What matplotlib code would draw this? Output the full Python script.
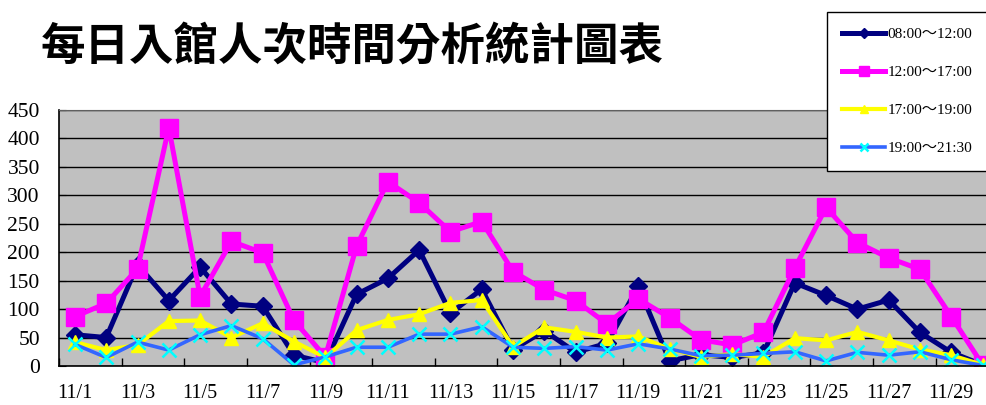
import matplotlib
matplotlib.use('Agg')
import matplotlib.pyplot as plt

# 日期（11月）
days = ['11/1', '11/2', '11/3', '11/4', '11/5', '11/6', '11/7', '11/8', '11/9', '11/10',
        '11/11', '11/12', '11/13', '11/14', '11/15', '11/16', '11/17', '11/18', '11/19', '11/20',
        '11/21', '11/22', '11/23', '11/24', '11/25', '11/26', '11/27', '11/28', '11/29', '11/30']

# 各時段入館人次
s_0800 = [55, 50, 178, 115, 174, 109, 105, 19, 6, 126, 154, 204, 93, 135, 29,
          62, 24, 40, 140, 9, 20, 15, 23, 146, 124, 100, 116, 59, 24, 2]
s_1200 = [87, 110, 171, 419, 122, 219, 199, 80, 16, 211, 324, 287, 236, 254, 166,
          134, 115, 74, 118, 85, 46, 37, 59, 172, 279, 217, 190, 170, 87, 2]
s_1700 = [42, 28, 37, 79, 80, 50, 75, 43, 15, 63, 81, 91, 111, 116, 34,
          68, 60, 50, 52, 30, 16, 21, 16, 49, 45, 60, 45, 29, 19, 2]
s_1900 = [38, 15, 42, 28, 55, 71, 48, 2, 16, 33, 33, 56, 56, 69, 33,
          31, 34, 28, 39, 30, 18, 19, 22, 25, 9, 24, 19, 25, 11, 1]

labels = ['08:00～12:00', '12:00～17:00', '17:00～19:00', '19:00～21:30']
y_ticks = [0, 50, 100, 150, 200, 250, 300, 350, 400, 450]

serif = ['Liberation Serif', 'Noto Sans CJK TC']

fig = plt.figure(figsize=(9.86, 4.05), dpi=100)
ax = fig.add_axes([0.0601, 0.0963, 0.9523, 0.632])
ax.set_facecolor('#c0c0c0')

x = list(range(len(days)))
ax.plot(x, s_0800, color='#000080', lw=3.6, marker='D', ms=9, mec='#000080', mfc='#000080', label=labels[0])
ax.plot(x, s_1200, color='#ff00ff', lw=3.6, marker='s', ms=13, mec='#ff00ff', mfc='#ff00ff', label=labels[1])
ax.plot(x, s_1700, color='#ffff00', lw=3.0, marker='^', ms=10, mec='#ffff00', mfc='#ffff00', label=labels[2])
ax.plot(x, s_1900, color='#3366ff', lw=2.6, marker='x', ms=10, mew=1.8, mec='#00ffff', label=labels[3])

ax.set_xlim(-0.5, len(days) - 0.5)
ax.set_ylim(0, 450)

# 橫向格線
ax.set_yticks(y_ticks)
ax.set_yticklabels([str(v) for v in y_ticks], family=serif, fontsize=15.5)
ax.yaxis.grid(True, color='black', lw=1.0)
ax.set_axisbelow(True)
ax.tick_params(axis='y', direction='in', length=5, pad=14, color='black')

# x 軸：刻度在類別之間，標籤每兩天一個
ax.set_xticks([i - 0.5 for i in range(0, len(days) + 1, 2)])
ax.set_xticklabels([])
ax.tick_params(axis='x', which='major', direction='in', length=6, width=1, color='black')
ax.set_xticks(x[::2], minor=True)
ax.set_xticklabels(days[::2], minor=True, family=serif, fontsize=14.5)
ax.tick_params(axis='x', which='minor', length=0, pad=13)

for side in ['left', 'bottom']:
    ax.spines[side].set_color('black')
    ax.spines[side].set_linewidth(1.2)
ax.spines['top'].set_color('#606060')
ax.spines['right'].set_visible(False)

fig.text(0.357, 0.885, '每日入館人次時間分析統計圖表', family=['Noto Sans CJK TC', 'DejaVu Sans'],
         fontsize=32, fontweight='bold', ha='center', va='center')

leg = fig.legend(loc='upper left', bbox_to_anchor=(827 / 986, 1 - 12 / 405), borderaxespad=0,
                 prop={'family': serif, 'size': 11}, frameon=True, fancybox=False,
                 edgecolor='black', framealpha=1, markerscale=0.6, handlelength=2.8,
                 handletextpad=0.15, labelspacing=1.6, borderpad=1.0)
leg.get_frame().set_linewidth(1.0)

fig.savefig('out.png', dpi=100, facecolor='white')
